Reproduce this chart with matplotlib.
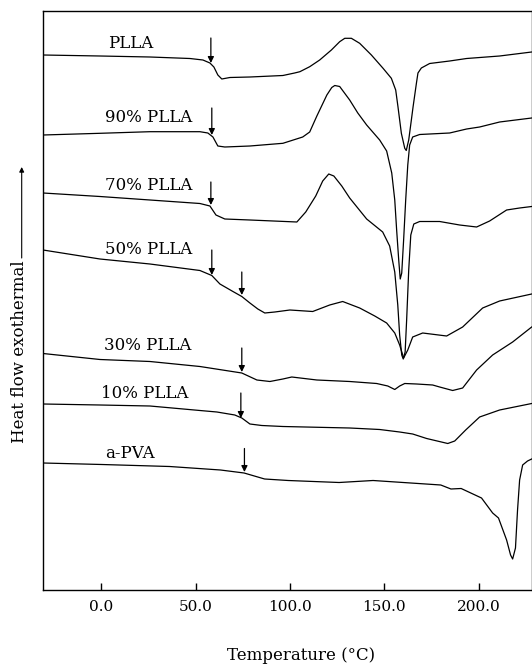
import numpy as np
import matplotlib
matplotlib.use("Agg")
import matplotlib.pyplot as plt

plt.rcParams['font.family'] = ['DejaVu Serif']

# DSC traces, temperature (C) vs heat flow (arbitrary units, offset per sample)
plla_t = [-31.0, -0.8, 25.7, 46.9, 53.8, 57.5, 59.6, 61.7, 63.8, 68.1, 78.7, 96.2, 102.4,
          105.2, 110.4, 115.7, 121.9, 126.3, 129.0, 132.5, 136.9, 143.1, 149.3, 153.7, 156.0,
          157.2, 159.0, 160.8, 161.6, 162.9, 164.3, 165.2, 167.0, 167.8, 169.6, 174.0,
          184.6, 193.6, 211.1, 228.1]
plla_h = [53.5, 53.4, 53.3, 53.15, 53.0, 52.7, 52.3, 51.5, 51.1, 51.25, 51.3, 51.45, 51.7,
          51.83, 52.33, 53.0, 54.0, 54.83, 55.17, 55.17, 54.67, 53.5, 52.17, 51.17, 50.0,
          48.33, 45.67, 44.17, 43.95, 45.0, 47.0, 48.3, 50.7, 51.7, 52.2, 52.65,
          52.9, 53.15, 53.4, 53.8]

p90_t = [-31.0, -0.8, 25.7, 52.2, 56.4, 59.1, 61.7, 65.4, 78.7, 96.2, 106.7, 110.4, 114.2,
         119.5, 122.1, 123.7, 126.3, 131.6, 135.9, 140.6, 147.5, 151.2, 153.9, 155.5, 156.5,
         157.6, 158.4, 159.2, 160.2, 161.3, 162.4, 163.4, 165.0, 168.7, 184.6, 193.6, 200.5,
         211.1, 228.1]
p90_h = [45.5, 45.67, 45.83, 45.83, 45.7, 45.3, 44.4, 44.3, 44.4, 44.67, 45.3, 45.8, 47.4,
         49.5, 50.25, 50.45, 50.35, 49.0, 47.7, 46.5, 45.0, 43.9, 41.7, 39.0, 36.0,
         33.0, 31.1, 31.7, 35.0, 39.0, 42.5, 44.5, 45.3, 45.55, 45.7, 46.1, 46.3,
         46.8, 47.2]

p70_t = [-31.0, -0.8, 25.7, 52.2, 57.5, 60.7, 65.4, 78.7, 103.6, 108.3, 113.6, 117.3, 120.5,
         123.2, 127.4, 131.6, 140.6, 149.1, 152.8, 155.5, 157.1, 158.1, 159.2, 160.0, 161.0,
         161.8, 162.9, 164.0, 165.6, 168.7, 179.3, 189.9, 198.9, 205.8, 214.8, 221.7, 228.1]
p70_h = [39.7, 39.35, 39.0, 38.65, 38.4, 37.5, 37.1, 37.0, 36.8, 37.8, 39.4, 40.9, 41.6,
         41.4, 40.4, 39.2, 37.1, 35.8, 34.4, 31.8, 28.5, 25.5, 23.5, 23.1, 23.8,
         27.0, 32.0, 35.5, 36.6, 36.85, 36.85, 36.5, 36.3, 36.9, 38.0, 38.2, 38.35]

p50_t = [-31.0, -0.8, 25.7, 52.2, 58.5, 62.8, 69.7, 74.4, 78.7, 82.9, 86.6, 91.9, 99.9,
         112.0, 121.0, 127.9, 136.9, 144.9, 151.2, 155.5, 158.1, 160.2, 162.4, 165.0, 170.3,
         183.0, 191.5, 202.1, 211.1, 228.1]
p50_h = [34.0, 33.1, 32.6, 31.95, 31.45, 30.6, 29.85, 29.35, 28.7, 28.1, 27.7, 27.8, 28.0,
         27.85, 28.5, 28.85, 28.2, 27.4, 26.7, 25.7, 24.5, 23.2, 24.0, 25.3, 25.7,
         25.4, 26.3, 28.2, 28.9, 29.6]

p30_t = [-31.0, -0.8, 25.7, 52.2, 74.4, 82.4, 89.3, 96.2, 100.9, 114.2, 131.6, 145.9, 151.8,
         155.5, 158.1, 160.8, 167.1, 175.6, 179.3, 186.2, 191.5, 198.9, 207.4, 218.0, 228.1]
p30_h = [23.65, 23.05, 22.85, 22.35, 21.7, 21.0, 20.85, 21.1, 21.3, 21.0, 20.85, 20.65, 20.4,
         20.05, 20.4, 20.65, 20.6, 20.5, 20.3, 19.95, 20.2, 22.0, 23.5, 24.8, 26.3]

p10_t = [-31.0, -0.8, 25.7, 52.2, 61.2, 70.7, 74.4, 78.7, 85.0, 96.2, 131.6, 147.5, 158.1,
         165.0, 172.4, 183.6, 187.3, 193.1, 200.5, 211.1, 228.1]
p10_h = [18.6, 18.5, 18.4, 17.95, 17.8, 17.5, 17.2, 16.6, 16.45, 16.35, 16.2, 16.05, 15.8,
         15.6, 15.15, 14.65, 14.9, 16.0, 17.3, 18.0, 18.65]

pva_t = [-31.0, 0.2, 36.1, 63.1, 75.6, 86.5, 99.0, 126.0, 144.0, 179.9, 185.3, 190.7, 201.5,
         207.4, 210.5, 214.8, 216.9, 218.0, 219.5, 220.6, 221.7, 223.3, 225.9, 228.1]
pva_h = [12.7, 12.55, 12.35, 12.0, 11.7, 11.1, 10.95, 10.75, 10.95, 10.5, 10.1, 10.15, 9.2,
         7.7, 7.2, 5.0, 3.5, 3.1, 4.2, 8.0, 11.0, 12.5, 12.9, 13.1]

curves = [(plla_t, plla_h), (p90_t, p90_h), (p70_t, p70_h), (p50_t, p50_h),
          (p30_t, p30_h), (p10_t, p10_h), (pva_t, pva_h)]

labels = ["PLLA", "90% PLLA", "70% PLLA", "50% PLLA", "30% PLLA", "10% PLLA", "a-PVA"]
label_t = [3.4, 1.9, 1.9, 1.9, 1.4, -0.3, 1.9]
label_h = [54.7, 47.2, 40.5, 34.1, 24.4, 19.7, 13.7]

# transition arrows: temperature, top of arrow, tip
arrow_t = [58.0, 58.5, 58.0, 58.5, 74.4, 74.4, 73.9, 75.8]
arrow_top = [55.2, 48.2, 40.8, 34.0, 31.8, 24.2, 19.7, 14.15]
arrow_tip = [52.7, 45.5, 38.5, 31.5, 29.5, 21.8, 17.2, 11.8]

fig = plt.figure(figsize=(5.32, 6.68), dpi=100)
ax = fig.add_axes([43/532, 1 - 590/668, 488.5/532, 579/668])

for t, h in curves:
    ax.plot(t, h, color='k', lw=0.9)

for lab, x, y in zip(labels, label_t, label_h):
    ax.text(x, y, lab, fontsize=12, ha='left', va='center')

for x, y0, y1 in zip(arrow_t, arrow_top, arrow_tip):
    ax.annotate('', xy=(x, y1), xytext=(x, y0),
                arrowprops=dict(arrowstyle='-|>', color='k', lw=0.9,
                                mutation_scale=9, shrinkA=0, shrinkB=0))

ax.set_xlim(-31, 228)
ax.set_ylim(0, 57.9)
ax.set_xticks([0, 50, 100, 150, 200])
ax.set_xticklabels(["0.0", "50.0", "100.0", "150.0", "200.0"])
ax.set_yticks([])
ax.tick_params(axis='x', direction='in', length=5, width=1, pad=7, labelsize=11)
for s in ax.spines.values():
    s.set_linewidth(1.0)

ax.set_xlabel("Temperature (°C)", fontsize=12)
ax.xaxis.set_label_coords(0.528, -0.098)

fig.text(20/532, 1 - 352/668, "Heat flow exothermal", rotation=90,
         fontsize=12, ha='center', va='center')
# y-axis direction arrow
ax.annotate('', xy=(21.7/532, 1 - 167/668), xytext=(21.7/532, 1 - 258/668),
            xycoords='figure fraction', textcoords='figure fraction',
            arrowprops=dict(arrowstyle='-|>', color='k', lw=0.8,
                            mutation_scale=7, shrinkA=0, shrinkB=0))

plt.savefig("out.png", dpi=100)
